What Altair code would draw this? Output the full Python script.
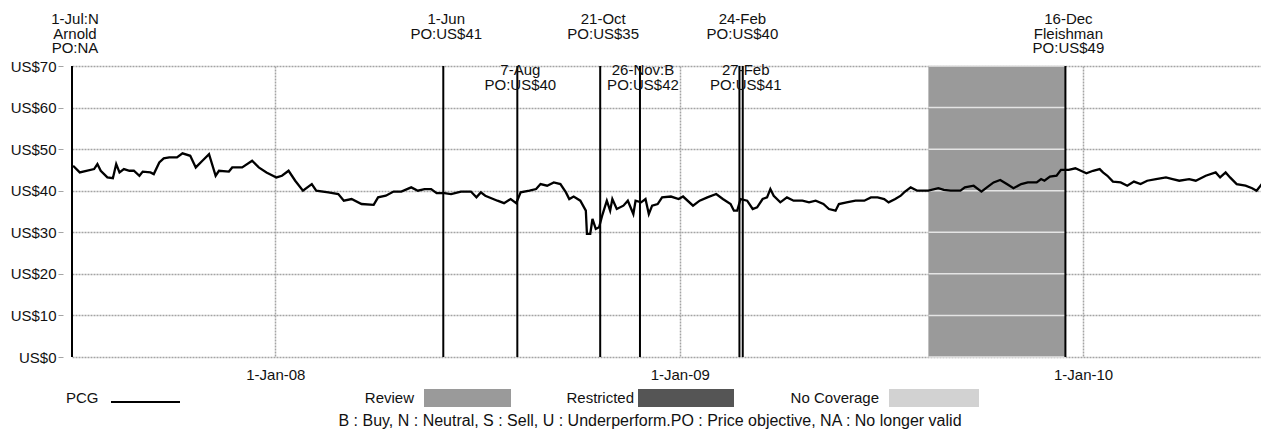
import altair as alt
import pandas as pd

FONT = "Liberation Sans, Arial, sans-serif"

# ---- PCG price series ----
price_dates = [
    "2007-07-02", "2007-07-08", "2007-07-14", "2007-07-21", "2007-07-24", "2007-07-27",
    "2007-08-02", "2007-08-07", "2007-08-10", "2007-08-13", "2007-08-17", "2007-08-22",
    "2007-08-26", "2007-08-31", "2007-09-03", "2007-09-10", "2007-09-13", "2007-09-18",
    "2007-09-22", "2007-09-27", "2007-10-04", "2007-10-09", "2007-10-16", "2007-10-21",
    "2007-10-27", "2007-11-02", "2007-11-08", "2007-11-11", "2007-11-20", "2007-11-23",
    "2007-12-02", "2007-12-11", "2007-12-17", "2007-12-24",
    "2008-01-02", "2008-01-07", "2008-01-13", "2008-01-19", "2008-01-26", "2008-02-03",
    "2008-02-07", "2008-02-18", "2008-02-27", "2008-03-03", "2008-03-10", "2008-03-19",
    "2008-03-30", "2008-04-03", "2008-04-10", "2008-04-17", "2008-04-24", "2008-05-03",
    "2008-05-09", "2008-05-15", "2008-05-21", "2008-05-26", "2008-06-02", "2008-06-08",
    "2008-06-17", "2008-06-26", "2008-07-01", "2008-07-05", "2008-07-09", "2008-07-20",
    "2008-07-26", "2008-08-01", "2008-08-06", "2008-08-10", "2008-08-18", "2008-08-24",
    "2008-08-28", "2008-09-03", "2008-09-09", "2008-09-15", "2008-09-20", "2008-09-23",
    "2008-09-27", "2008-10-03", "2008-10-08", "2008-10-09", "2008-10-12", "2008-10-14",
    "2008-10-17", "2008-10-20", "2008-10-23", "2008-10-27", "2008-10-30", "2008-11-01",
    "2008-11-05", "2008-11-11", "2008-11-15", "2008-11-20", "2008-11-22", "2008-11-27",
    "2008-12-01", "2008-12-04", "2008-12-07", "2008-12-12", "2008-12-16", "2008-12-24",
    "2008-12-31",
    "2009-01-04", "2009-01-13", "2009-01-19", "2009-01-26", "2009-02-03", "2009-02-09",
    "2009-02-16", "2009-02-19", "2009-02-22", "2009-02-25", "2009-03-03", "2009-03-08",
    "2009-03-12", "2009-03-17", "2009-03-21", "2009-03-24", "2009-03-27", "2009-04-02",
    "2009-04-08", "2009-04-14", "2009-04-22", "2009-04-28", "2009-05-04", "2009-05-11",
    "2009-05-16", "2009-05-22", "2009-05-25", "2009-06-01", "2009-06-09", "2009-06-17",
    "2009-06-23", "2009-06-29", "2009-07-05", "2009-07-09", "2009-07-15", "2009-07-20",
    "2009-07-23", "2009-07-29", "2009-08-04", "2009-08-14", "2009-08-23", "2009-08-28",
    "2009-09-03", "2009-09-12", "2009-09-16", "2009-09-24", "2009-10-01", "2009-10-06",
    "2009-10-12", "2009-10-18", "2009-10-24", "2009-10-30", "2009-11-06", "2009-11-12",
    "2009-11-20", "2009-11-24", "2009-11-27", "2009-12-02", "2009-12-08", "2009-12-12",
    "2009-12-19", "2009-12-25", "2009-12-30",
    "2010-01-04", "2010-01-10", "2010-01-16", "2010-01-19", "2010-01-23", "2010-01-28",
    "2010-02-04", "2010-02-10", "2010-02-16", "2010-02-22", "2010-02-28", "2010-03-08",
    "2010-03-17", "2010-03-23", "2010-03-29", "2010-04-07", "2010-04-13", "2010-04-22",
    "2010-05-01", "2010-05-05", "2010-05-10", "2010-05-14", "2010-05-20", "2010-05-28",
    "2010-06-03", "2010-06-07", "2010-06-14", "2010-06-17",
]
price_values = [
    46.0, 44.4, 44.8, 45.2, 46.4, 44.8,
    43.2, 43.0, 46.4, 44.4, 45.2, 44.8,
    44.8, 43.6, 44.6, 44.4, 44.0, 46.8,
    47.8, 48.0, 48.0, 49.0, 48.4, 45.6,
    47.2, 48.8, 43.6, 44.8, 44.6, 45.6,
    45.6, 47.2, 45.6, 44.4,
    43.2, 43.6, 44.8, 42.4, 40.0, 41.6,
    40.0, 39.6, 39.2, 37.6, 38.0, 36.8,
    36.6, 38.4, 38.8, 39.8, 39.8, 40.8,
    40.0, 40.4, 40.4, 39.4, 39.4, 39.2,
    39.8, 39.8, 38.4, 39.6, 38.8, 37.6,
    37.0, 38.0, 37.0, 39.6, 40.0, 40.4,
    41.6, 41.2, 42.0, 41.6, 39.6, 38.0,
    38.6, 37.6, 35.2, 29.6, 29.6, 33.2,
    30.8, 31.2, 34.2, 37.6, 35.2, 38.0,
    35.6, 36.4, 37.6, 34.4, 37.6, 37.2,
    38.0, 34.4, 36.4, 36.8, 38.4, 38.6,
    38.0,
    38.6, 36.4, 37.6, 38.4, 39.2, 38.0,
    36.8, 35.2, 35.2, 38.0, 37.6, 35.6,
    36.0, 38.0, 38.4, 40.4, 38.8, 37.2,
    38.4, 37.6, 37.6, 37.2, 37.6, 36.8,
    35.6, 35.2, 36.8, 37.2, 37.6, 37.6,
    38.4, 38.4, 38.0, 37.2, 38.0, 38.8,
    39.6, 40.8, 40.0, 40.0, 40.6, 40.2,
    40.0, 40.0, 40.8, 41.2, 39.8, 40.8,
    42.0, 42.6, 41.6, 40.6, 41.6, 42.0,
    42.0, 42.8, 42.4, 43.4, 43.6, 45.0,
    45.0, 45.4, 44.8,
    44.2, 44.8, 45.2, 44.4, 43.6, 42.2,
    42.0, 41.2, 42.2, 41.6, 42.4, 42.8,
    43.2, 42.8, 42.4, 42.8, 42.4, 43.6,
    44.4, 43.2, 44.4, 43.2, 41.6, 41.2,
    40.6, 40.0, 42.4, 42.9,
]

# ---- rating / price-objective events ----
event_dates = ["2007-07-01", "2008-06-01", "2008-08-07", "2008-10-21",
               "2008-11-26", "2009-02-24", "2009-02-27", "2009-12-16"]
event_labels = ["1-Jul:N\nArnold\nPO:NA", "1-Jun\nPO:US$41", "7-Aug\nPO:US$40",
                "21-Oct\nPO:US$35", "26-Nov:B\nPO:US$42", "24-Feb\nPO:US$40",
                "27-Feb\nPO:US$41", "16-Dec\nFleishman\nPO:US$49"]
event_row = ["upper", "upper", "lower", "upper", "lower", "upper", "lower", "upper"]

# ---- review period ----
review_start = ["2009-08-14"]
review_end = ["2009-12-16"]

y_ticks = [0, 10, 20, 30, 40, 50, 60, 70]
x_ticks = [2008, 2009, 2010]

legend_labels = ["PCG", "Review", "Restricted", "No Coverage"]
footnote = "B : Buy,  N : Neutral,  S : Sell,  U : Underperform.PO : Price objective,  NA : No longer valid"

# ---- tables ----
price_df = pd.DataFrame({"date": price_dates, "price": price_values})
event_df = pd.DataFrame({"date": event_dates, "label": event_labels, "row": event_row})
review_df = pd.DataFrame({"start": review_start, "end": review_end})
review_grid_df = pd.DataFrame({"gstart": review_start * len(y_ticks),
                               "gend": review_end * len(y_ticks),
                               "level": y_ticks})
one_row = pd.DataFrame({"k": [0]})

xscale = alt.Scale(domain=[alt.DateTime(year=2007, month=7, date=1, utc=True),
                           alt.DateTime(year=2010, month=6, date=11, utc=True)])
yscale = alt.Scale(domain=[0, 70])

GRID = "#a4a4a4"
FS = 15

x_axis = alt.Axis(values=[alt.DateTime(year=y, month=1, date=1, utc=True) for y in x_ticks],
                  labelExpr="utcFormat(datum.value, '%-d-%b-%y')", grid=True,
                  gridColor=GRID, gridDash=[2, 1], gridWidth=1.5, ticks=False,
                  domain=False, labelPadding=10, title=None, labelFont=FONT,
                  labelFontSize=FS, labelColor="#111")
y_axis = alt.Axis(values=y_ticks, labelExpr="'US$' + datum.value", grid=True,
                  gridColor=GRID, gridDash=[2, 1], gridWidth=1.5, domain=False,
                  ticks=True, tickSize=5, tickColor=GRID, labelPadding=2, offset=9,
                  title=None, labelFont=FONT, labelFontSize=FS, labelColor="#111")

X = lambda f: alt.X(f, scale=xscale, axis=x_axis)
Y = lambda f: alt.Y(f, scale=yscale, axis=y_axis)

review = alt.Chart(review_df).transform_calculate(y0="0", y1="70").mark_rect(
    color="#9a9a9a"
).encode(x=X("start:T"), x2="end:T", y=Y("y0:Q"), y2="y1:Q")

review_grid = alt.Chart(review_grid_df).mark_rule(
    color="#e4e4e4", strokeWidth=1.5
).encode(x=X("gstart:T"), x2="gend:T", y=Y("level:Q"))

rules = alt.Chart(event_df).transform_calculate(y0="0", y1="70").mark_rule(
    color="black", strokeWidth=2
).encode(x=X("date:T"), y=Y("y0:Q"), y2="y1:Q")

line = alt.Chart(price_df).mark_line(color="black", strokeWidth=2.3, clip=True).encode(
    x=X("date:T"), y=Y("price:Q"))


def event_text(row, ypix):
    return alt.Chart(event_df).transform_filter(
        alt.datum.row == row
    ).mark_text(
        font=FONT, fontSize=FS, lineBreak="\n", lineHeight=14.5, baseline="top",
        align="center", dx=3, color="#111"
    ).encode(x=X("date:T"), y=alt.value(ypix), text="label:N")


upper_text = event_text("upper", -54)
lower_text = event_text("lower", -3)

# ---- hand-built legend below the plot ----
LEG_Y = 332
leg_style = dict(font=FONT, fontSize=FS, color="#111", baseline="middle")
pcg_text = alt.Chart(one_row).mark_text(align="left", **leg_style).encode(
    x=alt.value(-6), y=alt.value(LEG_Y), text=alt.value(legend_labels[0]))
pcg_line = alt.Chart(one_row).mark_rule(color="black", strokeWidth=2).encode(
    x=alt.value(39), x2=alt.value(108), y=alt.value(LEG_Y + 4))
rev_text = alt.Chart(one_row).mark_text(align="right", **leg_style).encode(
    x=alt.value(342), y=alt.value(LEG_Y), text=alt.value(legend_labels[1]))
rev_box = alt.Chart(one_row).mark_rect(color="#9a9a9a").encode(
    x=alt.value(352), x2=alt.value(439), y=alt.value(LEG_Y - 9), y2=alt.value(LEG_Y + 9))
res_text = alt.Chart(one_row).mark_text(align="right", **leg_style).encode(
    x=alt.value(562), y=alt.value(LEG_Y), text=alt.value(legend_labels[2]))
res_box = alt.Chart(one_row).mark_rect(color="#555555").encode(
    x=alt.value(566), x2=alt.value(662), y=alt.value(LEG_Y - 9), y2=alt.value(LEG_Y + 9))
noc_text = alt.Chart(one_row).mark_text(align="right", **leg_style).encode(
    x=alt.value(807), y=alt.value(LEG_Y), text=alt.value(legend_labels[3]))
noc_box = alt.Chart(one_row).mark_rect(color="#d2d2d2").encode(
    x=alt.value(817), x2=alt.value(907), y=alt.value(LEG_Y - 9), y2=alt.value(LEG_Y + 9))
foot = alt.Chart(one_row).mark_text(
    align="center", font=FONT, fontSize=16, color="#111", baseline="middle"
).encode(x=alt.value(578), y=alt.value(355), text=alt.value(footnote))

chart = alt.layer(
    review, review_grid, rules, line, upper_text, lower_text,
    pcg_text, pcg_line, rev_text, rev_box, res_text, res_box, noc_text, noc_box, foot,
).properties(
    width=1189, height=291,
    autosize=alt.AutoSizeParams(type="none"),
    padding={"left": 64, "top": 58, "right": 0, "bottom": 74},
).configure_view(stroke=None)

chart.save("out.html", embed_options={"renderer": "svg", "actions": False})
